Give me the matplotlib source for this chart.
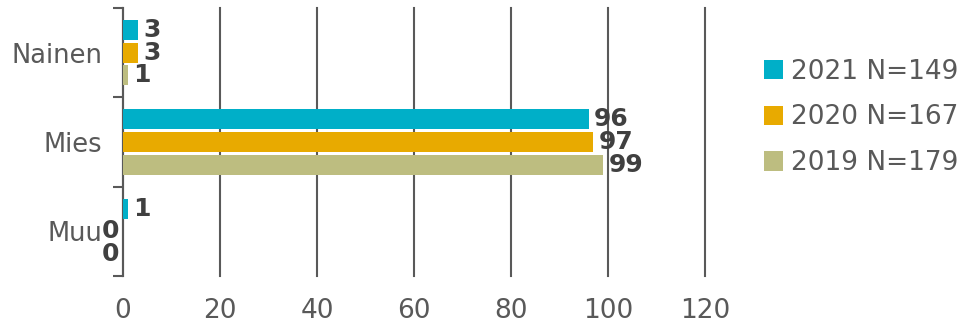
import numpy as np
import matplotlib
matplotlib.use("Agg")
import matplotlib.pyplot as plt
from matplotlib.patches import Patch

# data
categories = ["Nainen", "Mies", "Muu"]
series_labels = ["2021 N=149", "2020 N=167", "2019 N=179"]
values_2021 = [3, 96, 1]
values_2020 = [3, 97, 0]
values_2019 = [1, 99, 0]
colors = ["#00AFC8", "#E8AA00", "#BDBD80"]

series = [values_2021, values_2020, values_2019]

fig = plt.figure(figsize=(9.72, 3.28), dpi=100)
ax = fig.add_axes([0.1265, 0.1585, 0.5988, 0.817])

n_cat = len(categories)
centers = np.arange(n_cat)[::-1]  # Nainen on top
step = 0.253
height = 0.225
offsets = [step, 0, -step]

text_col = "#595959"
label_col = "#404040"

for vals, off, col in zip(series, offsets, colors):
    ys = centers + off
    ax.barh(ys, vals, height=height, color=col, zorder=3)
    for y, v in zip(ys, vals):
        if v > 0:
            ax.annotate(str(v), (v, y), xytext=(4, 0), textcoords="offset points",
                        ha="left", va="center", fontsize=18, fontweight="bold",
                        color=label_col, zorder=4)
        else:
            ax.annotate(str(v), (v, y), xytext=(-3, 0), textcoords="offset points",
                        ha="right", va="center", fontsize=18, fontweight="bold",
                        color=label_col, zorder=4)

ax.set_xlim(0, 120)
ax.set_ylim(-0.5, n_cat - 0.5)
ax.set_xticks(np.arange(0, 121, 20))
ax.tick_params(axis="x", length=0, labelsize=19, labelcolor=text_col, pad=16)
ax.xaxis.grid(True, color="#595959", linewidth=1.5, zorder=0)
for gl in ax.get_xgridlines():
    gl.set_clip_on(False)

# category boundaries as ticks, names at centers
ax.set_yticks(np.arange(-0.5, n_cat, 1.0))
ax.set_yticklabels([])
ax.tick_params(axis="y", which="major", length=7, width=1.5, color="#595959")
ax.set_yticks(centers, minor=True)
ax.set_yticklabels(categories, minor=True)
ax.tick_params(axis="y", which="minor", length=0, labelsize=18.5, labelcolor=text_col, pad=15)

for s in ["top", "right", "bottom"]:
    ax.spines[s].set_visible(False)
ax.spines["left"].set_color("#595959")
ax.spines["left"].set_linewidth(1.5)
ax.set_axisbelow(True)

handles = [Patch(facecolor=c, edgecolor="none") for c in colors]
fig.legend(handles, series_labels, loc="center left", bbox_to_anchor=(0.772, 0.642),
           frameon=False, fontsize=19, labelcolor=text_col, handlelength=0.75,
           handleheight=0.75, handletextpad=0.3, labelspacing=0.75, borderpad=0)

fig.savefig("out.png", dpi=100)
